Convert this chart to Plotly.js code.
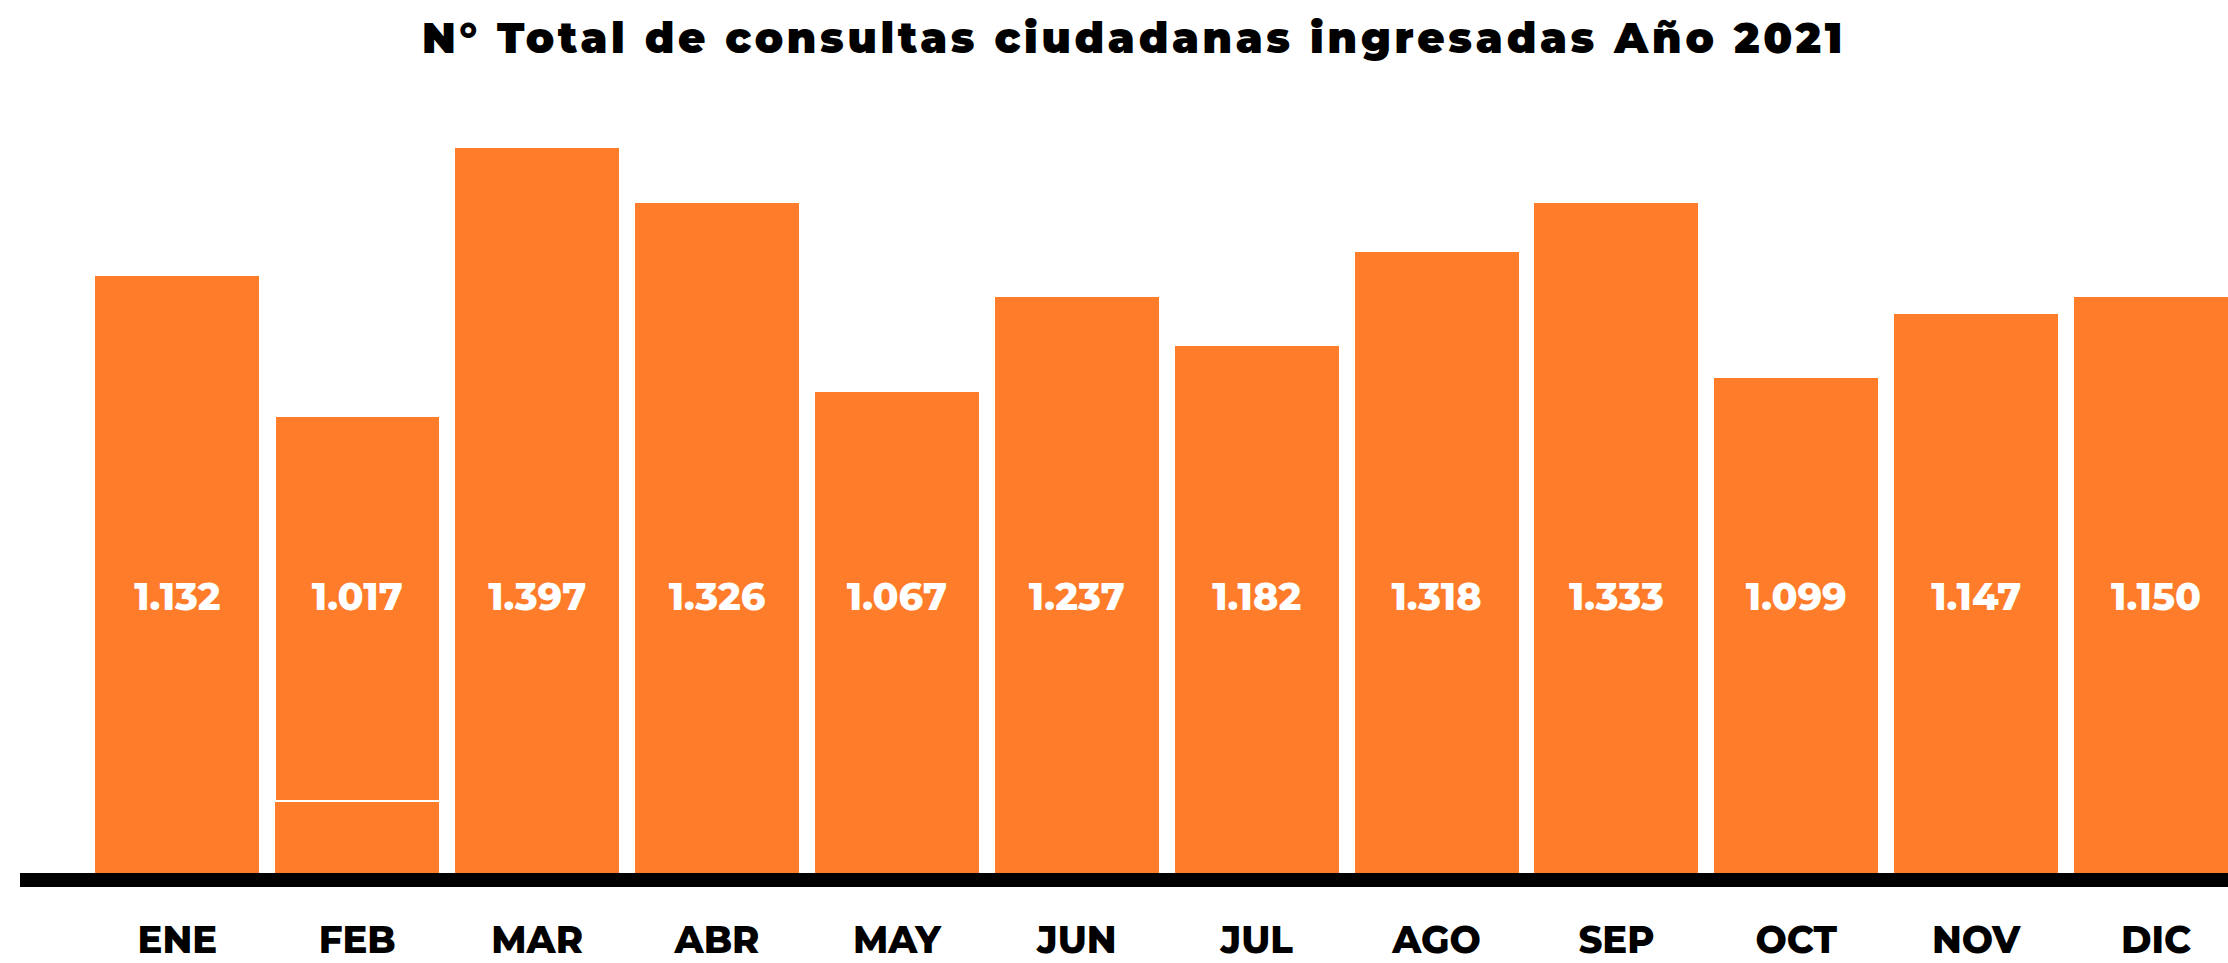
<!DOCTYPE html>
<html>
<head>
<meta charset="utf-8">
<script src="https://cdn.plot.ly/plotly-3.0.1.min.js"></script>
<style>
html, body { margin: 0; padding: 0; background: #ffffff; }
#chart { width: 2228px; height: 963px; }
.gtitle { letter-spacing: 3.7px; }
</style>
</head>
<body>
<div id="chart"></div>
<script>
// Months (category axis)
const meses = ['ENE', 'FEB', 'MAR', 'ABR', 'MAY', 'JUN', 'JUL', 'AGO', 'SEP', 'OCT', 'NOV', 'DIC'];
// Printed values (N° de consultas ingresadas)
const consultas = [1132, 1017, 1397, 1326, 1067, 1237, 1182, 1318, 1333, 1099, 1147, 1150];
// Bar heights as drawn in the reference graphic (same scale as MAR = 1397)
const alturaDibujada = [1152, 881, 1397, 1291, 927, 1110, 1017, 1198, 1291, 954, 1077, 1110];
// FEB bar is split by a thin white line near its base (lower segment)
const tramoInferior = [0, 139, 0, 0, 0, 0, 0, 0, 0, 0, 0, 0];

const NARANJA = '#FE7C2A';
const FUENTE = 'Montserrat, Inter, "DejaVu Sans", sans-serif';
const NIVEL_ETIQUETA = 525;

const fmt = v => v.toLocaleString('es-CL').replace(',', '.');
const tramoSuperior = alturaDibujada.map((h, i) => h - tramoInferior[i]);

const traces = [
  {
    type: 'bar', x: meses, y: tramoInferior,
    marker: { color: NARANJA, line: { width: 0 } },
    hoverinfo: 'skip', showlegend: false
  },
  {
    type: 'bar', x: meses, y: tramoSuperior,
    marker: {
      color: NARANJA,
      line: { color: '#ffffff', width: tramoInferior.map(v => v > 0 ? 1.5 : 0) }
    },
    hoverinfo: 'skip', showlegend: false
  },
  {
    type: 'scatter', mode: 'text', x: meses,
    y: meses.map(() => NIVEL_ETIQUETA),
    text: consultas.map(fmt),
    textposition: 'middle center',
    textfont: { family: FUENTE, size: 38, color: '#ffffff', weight: 800 },
    hoverinfo: 'skip', showlegend: false
  }
];

const layout = {
  width: 2228, height: 963,
  margin: { l: 20, r: 0, t: 95, b: 90 },
  paper_bgcolor: '#ffffff', plot_bgcolor: '#ffffff',
  barmode: 'stack', bargap: 0.088,
  showlegend: false,
  title: {
    text: 'N° Total de consultas ciudadanas ingresadas Año 2021',
    font: { family: FUENTE, size: 42, color: '#000000', weight: 900 },
    x: 0.509, xref: 'container', xanchor: 'center',
    y: 0.96, yref: 'container', yanchor: 'middle'
  },
  xaxis: {
    type: 'category',
    range: [-0.875, 11.40],
    showline: true, linecolor: '#000000', linewidth: 14,
    showgrid: false, zeroline: false,
    ticks: 'outside', ticklen: 22, tickcolor: 'rgba(0,0,0,0)',
    tickfont: { family: FUENTE, size: 37, color: '#000000', weight: 800 },
    fixedrange: true
  },
  yaxis: {
    range: [0, 1500],
    visible: false, showgrid: false, zeroline: false,
    fixedrange: true
  }
};

Plotly.newPlot('chart', traces, layout, { displayModeBar: false, staticPlot: true });
</script>
</body>
</html>
